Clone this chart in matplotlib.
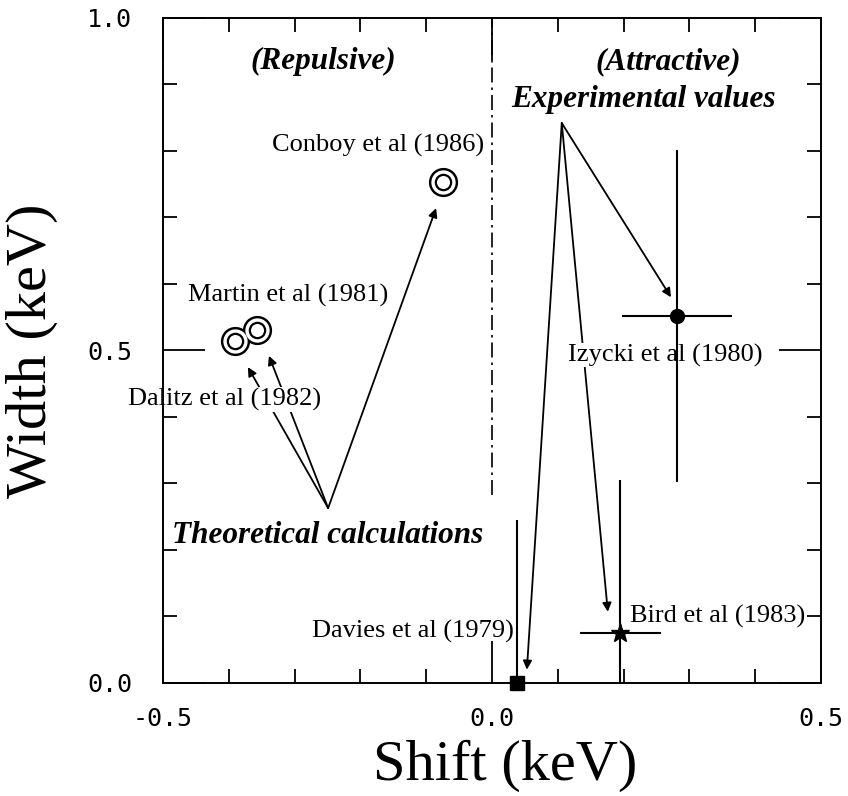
import matplotlib.pyplot as plt
from matplotlib.ticker import MultipleLocator

plt.rcParams['axes.unicode_minus'] = False
serif = ['Liberation Serif', 'DejaVu Serif']

# measured resonances: shift, width and error bars (keV)
exp_names = ["Davies et al (1979)", "Izycki et al (1980)", "Bird et al (1983)"]
exp_shift = [0.038, 0.281, 0.195]
exp_width = [0.0, 0.552, 0.075]
exp_shift_err = [0.0, 0.083, 0.062]
exp_width_lo = [0.0, 0.25, 0.075]
exp_width_hi = [0.245, 0.25, 0.23]
exp_markers = ['s', 'o', '*']
exp_msize = [9.5, 10, 14]

# theoretical predictions (no error bars)
theo_names = ["Dalitz et al (1982)", "Martin et al (1981)", "Conboy et al (1986)"]
theo_shift = [-0.391, -0.357, -0.074]
theo_width = [0.514, 0.531, 0.753]

# arrows from the group captions to the points
theo_origin = (-0.249, 0.263)
theo_tips = [(-0.371, 0.475), (-0.339, 0.492), (-0.085, 0.714)]
exp_origin = (0.106, 0.842)
exp_tips = [(0.053, 0.02), (0.272, 0.580), (0.176, 0.107)]

fig = plt.figure(figsize=(8.48, 7.96), dpi=100)
ax = fig.add_axes([0.1922, 0.1420, 0.7760, 0.8354])

ax.set_xlim(-0.5, 0.5)
ax.set_ylim(0.0, 1.0)

for s in ax.spines.values():
    s.set_linewidth(1.4)
    s.set_zorder(2.5)

ax.xaxis.set_major_locator(MultipleLocator(0.5))
ax.yaxis.set_major_locator(MultipleLocator(0.5))
ax.xaxis.set_minor_locator(MultipleLocator(0.1))
ax.yaxis.set_minor_locator(MultipleLocator(0.1))
ax.tick_params(which='both', direction='in', top=True, right=True, width=1.3)
ax.tick_params(which='major', length=30)
ax.tick_params(which='minor', length=10)
ax.tick_params(axis='x', which='major', pad=17)
ax.tick_params(axis='y', which='major', pad=22)
ax.set_xticklabels([f"{v:.1f}" for v in ax.get_xticks()], fontsize=18,
                   family='DejaVu Sans Mono')
ax.set_yticklabels([f"{v:.1f}" for v in ax.get_yticks()], fontsize=18,
                   family='DejaVu Sans Mono')

ax.set_xlabel("Shift (keV)", fontsize=42, family=serif)
ax.set_ylabel("Width (keV)", fontsize=42, family=serif)
ax.xaxis.set_label_coords(0.52, -0.085)
ax.yaxis.set_label_coords(-0.16, 0.5)

# boundary between repulsive and attractive shifts
ax.axvline(0.0, ymin=0.283, ymax=1.0, color='black', lw=1.2,
           linestyle=(0, (9, 3, 1.5, 3)))

# experimental points with error bars
for i in range(len(exp_names)):
    ax.errorbar(exp_shift[i], exp_width[i],
                xerr=[[exp_shift_err[i]], [exp_shift_err[i]]],
                yerr=[[exp_width_lo[i]], [exp_width_hi[i]]],
                fmt=exp_markers[i], color='black', ms=exp_msize[i],
                elinewidth=1.5, capsize=0, zorder=3, clip_on=False)

# double-ring markers for the calculations
ax.plot(theo_shift, theo_width, 'o', ms=20, color='black', zorder=3)
ax.plot(theo_shift, theo_width, 'o', ms=16.5, color='white', zorder=3.1)
ax.plot(theo_shift, theo_width, 'o', ms=11, mfc='white', mec='black',
        mew=1.6, zorder=3.2)

arrow = dict(arrowstyle='-|>', lw=1.3, color='black', mutation_scale=13,
             shrinkA=0, shrinkB=0)
for tip in theo_tips:
    ax.annotate("", xy=tip, xytext=theo_origin, arrowprops=arrow, zorder=2)
for tip in exp_tips:
    ax.annotate("", xy=tip, xytext=exp_origin, arrowprops=arrow, zorder=2)

# captions
bi = dict(family=serif, fontsize=22.5, fontweight='bold', fontstyle='italic')
ax.text(-0.257, 0.934, "(Repulsive)", ha='center', va='center', **bi)
ax.text(0.267, 0.934, "(Attractive)", ha='center', va='center', **bi)
ax.text(0.230, 0.877, "Experimental values", ha='center', va='center', **bi)
ax.text(-0.250, 0.222, "Theoretical calculations", ha='center', va='center', **bi)

lab = dict(family=serif, fontsize=19, va='center', zorder=2.2)
white = dict(facecolor='white', edgecolor='none', pad=0.5)
ax.text(-0.334, 0.809, theo_names[2], ha='left', **lab)
ax.text(-0.462, 0.582, theo_names[1], ha='left', **lab)
ax.text(-0.553, 0.426, theo_names[0], ha='left', bbox=white, clip_on=False, **lab)
ax.text(0.116, 0.493, exp_names[1], ha='left', bbox=white, **lab)
ax.text(0.033, 0.077, exp_names[0], ha='right', **lab)
ax.text(0.210, 0.100, exp_names[2], ha='left', **lab)

fig.savefig("out.png", dpi=100)
